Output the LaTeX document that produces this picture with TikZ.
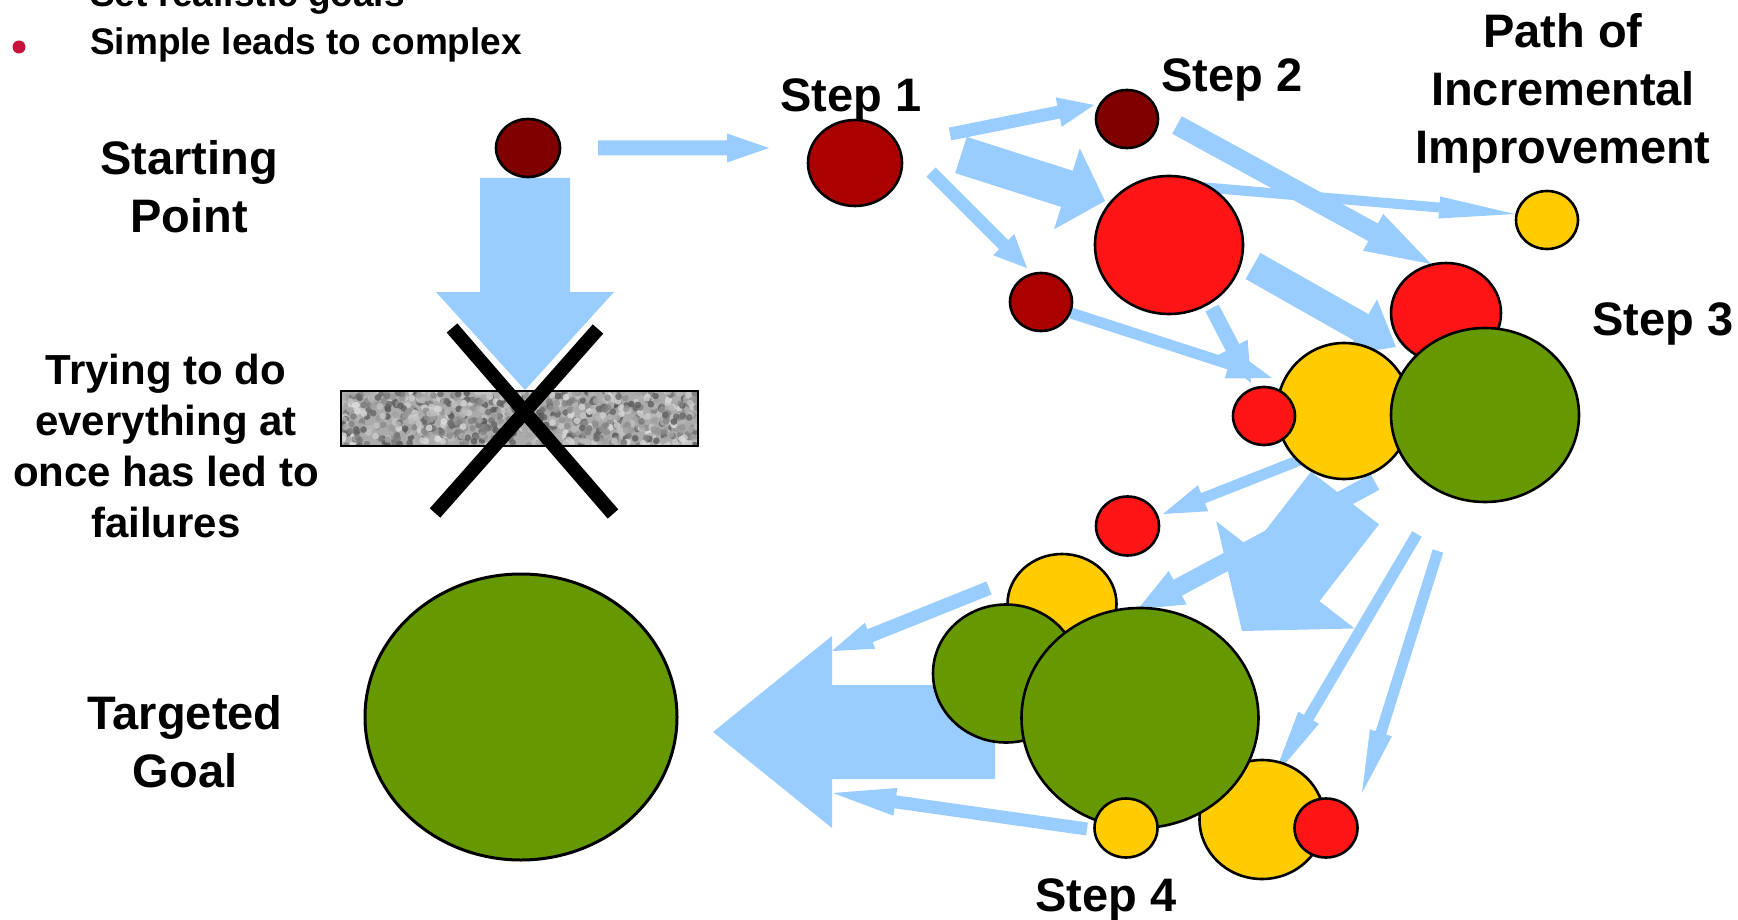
\documentclass[tikz,border=0pt]{standalone}
\usepackage{fontspec}
\setmainfont{Liberation Sans}
\usetikzlibrary{calc,shapes.geometric}

\definecolor{flow}{HTML}{99CCFF}
\definecolor{maroon}{HTML}{800000}
\definecolor{darkred}{HTML}{AA0000}
\definecolor{brightred}{HTML}{FF1515}
\definecolor{amber}{HTML}{FFCC00}
\definecolor{leaf}{HTML}{669900}
\definecolor{bulletred}{HTML}{C8143C}

% block arrow: #1 start, #2 tip, #3 shaft width, #4 head width, #5 head length
\newcommand\blockarrow[5]{%
  \pgfmathsetlengthmacro\bas{#3/2}%
  \pgfmathsetlengthmacro\bah{#4/2}%
  \pgfmathsetlengthmacro\bal{#5}%
  \coordinate (hb) at ($(#2)!\bal!(#1)$);
  \fill[flow] ($(#1)!\bas!90:(#2)$) -- ($(hb)!\bas!-90:(#1)$)
    -- ($(hb)!\bah!-90:(#1)$) -- (#2) -- ($(hb)!\bah!90:(#1)$)
    -- ($(hb)!\bas!90:(#1)$) -- ($(#1)!\bas!-90:(#2)$) -- cycle;}

\tikzset{
  ball/.style={ellipse, draw=black, line width=2.6pt, inner sep=0pt},
  lbl/.style={font=\fontsize{47}{58}\selectfont\bfseries, align=center, anchor=base, inner sep=0pt},
  small/.style={font=\fontsize{42}{51}\selectfont\bfseries, align=center, anchor=base, inner sep=0pt},
  bullettext/.style={font=\fontsize{37}{44}\selectfont\bfseries, anchor=base west, inner sep=0pt},
}

\begin{document}
\begin{tikzpicture}[x=1pt,y=-1pt]
\useasboundingbox (0,0) rectangle (1738,920);

% ---- arrow end points ----
\coordinate (a1s) at (525,178);  \coordinate (a1t) at (525,390);
\coordinate (a2s) at (598,148);  \coordinate (a2t) at (769,148);
\coordinate (a3s) at (950,134);  \coordinate (a3t) at (1094,105);
\coordinate (a4s) at (961,155);  \coordinate (a4t) at (1105,201);
\coordinate (a5s) at (931,172);  \coordinate (a5t) at (1027,268);
\coordinate (a6s) at (1200,187); \coordinate (a6t) at (1515,214);
\coordinate (a7s) at (1177,125); \coordinate (a7t) at (1431,264);
\coordinate (a8s) at (1253,266); \coordinate (a8t) at (1396,347);
\coordinate (a9s) at (1212,308); \coordinate (a9t) at (1251,383);
\coordinate (a10s) at (1071,313); \coordinate (a10t) at (1272,378);
\coordinate (a11s) at (1300,460); \coordinate (a11t) at (1163,514);
\coordinate (a12s) at (1345,498); \coordinate (a12t) at (1242,631);
\coordinate (a13s) at (1375,482); \coordinate (a13t) at (1138,609);
\coordinate (a14s) at (1417,534); \coordinate (a14t) at (1273,778);
\coordinate (a15s) at (1438,551); \coordinate (a15t) at (1362,793);
\coordinate (a16s) at (989,588);  \coordinate (a16t) at (832,651);
\coordinate (a17s) at (1087,829); \coordinate (a17t) at (833,793);
\coordinate (a18s) at (995,732);  \coordinate (a18t) at (713,732);

% ---- arrows ----
\blockarrow{a1s}{a1t}{90}{178}{98}
\blockarrow{a2s}{a2t}{15}{29}{42}
\blockarrow{a3s}{a3t}{13}{30}{36}
\blockarrow{a4s}{a4t}{38}{85}{40}
\blockarrow{a5s}{a5t}{13}{30}{33}
\blockarrow{a6s}{a6t}{10}{22}{76}
\blockarrow{a7s}{a7t}{20}{42}{66}
\blockarrow{a8s}{a8t}{30}{64}{40}
\blockarrow{a9s}{a9t}{15}{34}{40}
\blockarrow{a10s}{a10t}{11}{30}{45}
\blockarrow{a11s}{a11t}{11}{28}{43}
\blockarrow{a12s}{a12t}{86}{175}{71}
\blockarrow{a13s}{a13t}{18}{38}{45}
\blockarrow{a14s}{a14t}{11}{24}{70}
\blockarrow{a15s}{a15t}{11}{23}{63}
\blockarrow{a16s}{a16t}{14}{28}{41}
\blockarrow{a17s}{a17t}{13}{28}{63}
\blockarrow{a18s}{a18t}{94}{192}{119}

% ---- crossed-out bar ----
\coordinate (x1a) at (452,328); \coordinate (x1b) at (613,514);
\coordinate (x2a) at (598,329); \coordinate (x2b) at (435,513);
\draw[white, line width=21pt] (x1a) -- (x1b) (x2a) -- (x2b);
\begin{scope}
  \clip (341,391) rectangle (698,446);
  \fill[black!33] (341,391) rectangle (698,446);
  \pgfmathsetseed{11}
  \foreach \i in {1,...,900}{
    \pgfmathsetmacro\px{341+rnd*357}
    \pgfmathsetmacro\py{391+rnd*55}
    \pgfmathsetmacro\pg{12+rnd*55}
    \fill[black!\pg, opacity=0.8] (\px,\py) circle[radius=3.4pt];
  }
\end{scope}
\draw[line width=2pt] (341,391) rectangle (698,446);
\draw[black, line width=14pt] (x1a) -- (x1b) (x2a) -- (x2b);

% ---- stages ----
\node[ball, fill=maroon, minimum width=64pt, minimum height=58pt] (start) at (528,148) {};
\node[ball, fill=darkred, minimum width=94pt, minimum height=86pt] (s1) at (855,163) {};
\node[ball, fill=maroon, minimum width=62pt, minimum height=58pt] (s2a) at (1127,119) {};
\node[ball, fill=brightred, minimum width=148pt, minimum height=138pt] (s2b) at (1169,245) {};
\node[ball, fill=darkred, minimum width=62pt, minimum height=58pt] (s2c) at (1041,302) {};
\node[ball, fill=amber, minimum width=62pt, minimum height=58pt] (pathdot) at (1547,220) {};
\node[ball, fill=brightred, minimum width=110pt, minimum height=100pt] (s3r) at (1446,313) {};
\node[ball, fill=amber, minimum width=134pt, minimum height=136pt] (s3y) at (1344,411) {};
\node[ball, fill=brightred, minimum width=62pt, minimum height=58pt] (s3sr) at (1264,416) {};
\node[ball, fill=leaf, minimum width=188pt, minimum height=174pt] (s3g) at (1485,415) {};
\node[ball, fill=brightred, minimum width=63pt, minimum height=59pt] (s4r) at (1127.5,526) {};
\node[ball, fill=amber, minimum width=109pt, minimum height=100pt] (s4y) at (1062,604) {};
\node[ball, fill=leaf, minimum width=146pt, minimum height=138pt] (s4gl) at (1006,673.5) {};
\node[ball, fill=amber, minimum width=125pt, minimum height=119pt] (s4by) at (1262,819.5) {};
\node[ball, fill=leaf, minimum width=237pt, minimum height=220pt] (s4g) at (1140,718) {};
\node[ball, fill=amber, minimum width=63pt, minimum height=59pt] (s4sy) at (1126,828) {};
\node[ball, fill=brightred, minimum width=63pt, minimum height=59pt] (s4sr) at (1326,828) {};
\node[ball, fill=leaf, line width=3pt, minimum width=312pt, minimum height=286pt] (goal) at (521,717) {};

% ---- labels (multi-line nodes sit on their last baseline) ----
\node[bullettext] (b0) at (90,7) {Set realistic goals};
\fill[bulletred] (19,47) circle[radius=6.5pt];
\node[bullettext] (b1) at (90,55) {Simple leads to complex};
\node[lbl] (tstart) at (189,233) {Starting\\Point};
\node[small] (ttry) at (166,537) {Trying to do\\everything at\\once has led to\\failures};
\node[lbl] (tgoal) at (185,787) {Targeted\\Goal};
\node[lbl] (tpath) at (1563,164) {Path of\\Incremental\\Improvement};
\node[lbl] (l1) at (851,112) {Step 1};
\node[lbl] (l2) at (1232,92) {Step 2};
\node[lbl] (l3) at (1663,335) {Step 3};
\node[lbl] (l4) at (1106,911) {Step 4};
\end{tikzpicture}
\end{document}
